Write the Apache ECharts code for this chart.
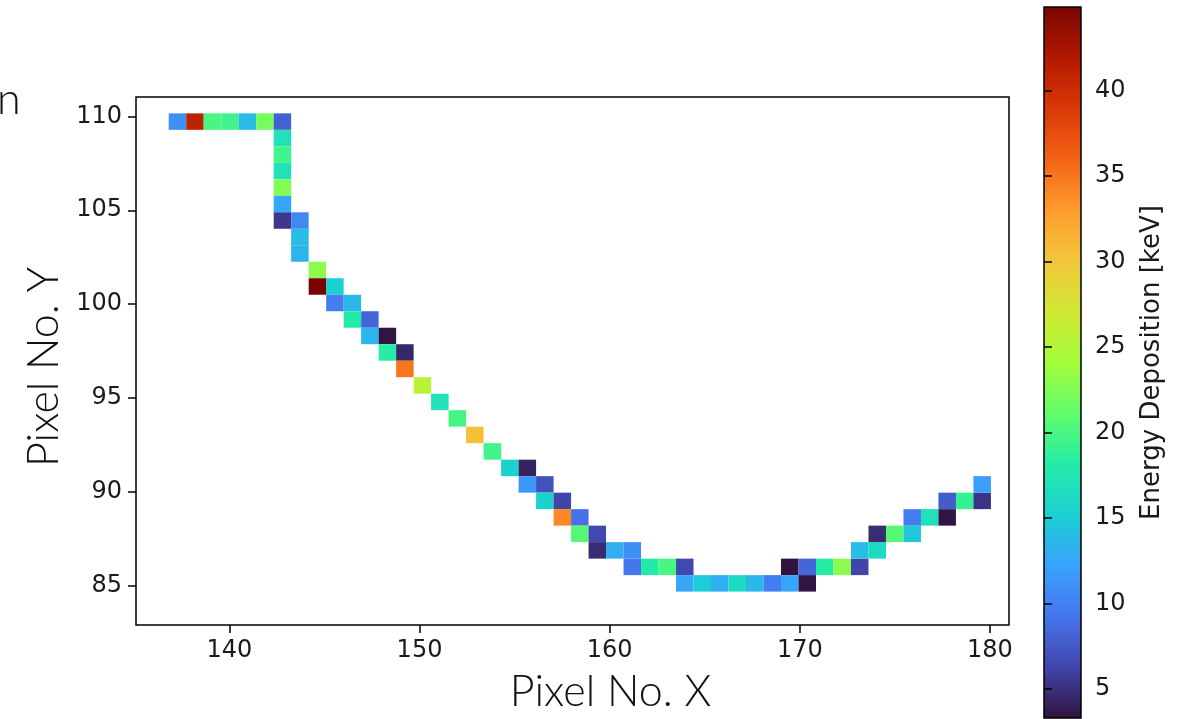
<!DOCTYPE html>
<html>
<head>
<meta charset="utf-8">
<script src="https://cdn.jsdelivr.net/npm/echarts@6/dist/echarts.min.js"></script>
<style>
  html, body { margin: 0; padding: 0; background: #fff; }
  #chartTrack { width: 1191px; height: 719px; }
</style>
</head>
<body>
<div id="chartTrack"></div>
<script type="text/javascript">
	// tick labels
	var xTicks = [140, 150, 160, 170, 180];
	var yTicks = [85, 90, 95, 100, 105, 110];
	var cbTicks = [5, 10, 15, 20, 25, 30, 35, 40];

	// histogram bins (pixel units): first bin edge and bin size
	var binX0 = 136.81, binW = 0.92;
	var binYTop = 110.16, binH = 0.878;

	// hit cells: column index, row index (from top), energy in keV
	var colIdx = [0,1,2,3,4,5,6, 6,6,6,6,6,6, 7,7,7, 8,8, 9,9, 10,10, 11,11, 12,12, 13,13,
		14,15,16,17,18,19, 20,20, 21,21, 22,22, 23,23, 24,24, 25, 26,26, 27,28, 29,29,
		30,31,32,33,34, 35,35, 36,36, 37,38, 39,39, 40,40, 41, 42,42, 43, 44,44, 45, 46,46];
	var rowIdx = [0,0,0,0,0,0,0, 1,2,3,4,5,6, 6,7,8, 9,10, 10,11, 11,12, 12,13, 13,14, 14,15,
		16,17,18,19,20,21, 21,22, 22,23, 23,24, 24,25, 25,26, 26, 26,27, 27,27, 27,28,
		28,28,28,28,28, 27,28, 27,28, 27,27, 27,26, 26,25, 25, 25,24, 24, 24,23, 23, 23,22];
	var energy = [11,41,20,19.5,14,22,8, 17,19.5,17,22.5,12.5,5.5, 10.5,14,13.5, 23,44.9, 15.3,9.8, 13.7,17.8, 8.3,13.5, 3.5,18.3, 4.6,35,
		25.5,17,19.8,30.5,19.5,15.5, 4.3,11.5, 7,15.5, 6.2,34, 9,20.6, 6.5,4.8, 13, 11,9.3, 18,20, 6.5,12.5,
		15,13,16.3,13.7,9.8, 3.4,12.5, 8.3,3.5, 18.3,23, 6.2,14, 16.3,4.8, 20.6, 14.8,9.8, 17, 3.5,7.7, 19, 5.3,12];

	var eMin = 3.31, eMax = 44.88;

	// turbo colormap
	var turbo = ['#30123b','#4145ab','#4675ed','#39a2fc','#1bcfd4','#24eca6','#61fc6c','#a4fc3b',
		'#d1e834','#f3c63a','#fe9b2d','#f36315','#d93806','#b11901','#7a0402'];

	var cells = [];
	var n = Math.min(colIdx.length, rowIdx.length, energy.length);
	for (var i = 0; i < n; i++) {
		cells.push([binX0 + (colIdx[i] + 0.5) * binW, binYTop - (rowIdx[i] + 0.5) * binH, energy[i]]);
	}

	var stops = turbo.map(function (c, k) { return {offset: k / (turbo.length - 1), color: c}; });

	var tickFont = {fontFamily: 'DejaVu Sans', fontSize: 24, color: '#1a1a1a'};
	var nameFont = {fontFamily: 'Lato', fontSize: 43, fontWeight: 300, color: '#111'};

	var chartTrack = echarts.init(document.getElementById('chartTrack'));
	var option_track = {
		backgroundColor: '#fff',
		animation: false,
		grid: [
			{left: 136, top: 97, width: 873, height: 531, show: true, borderColor: '#000', borderWidth: 1.5, backgroundColor: '#fff'},
			{left: 1044, top: 7, width: 37, height: 711, show: true, borderColor: '#000', borderWidth: 1.5,
				backgroundColor: new echarts.graphic.LinearGradient(0, 1, 0, 0, stops)}
		],
		xAxis: [
			{
				type: 'value', gridIndex: 0, min: 135.09, max: 181.0,
				name: 'Pixel No. X', nameLocation: 'middle', nameGap: 46,
				nameTextStyle: Object.assign({padding: [0, 0, 0, 76]}, nameFont),
				axisLine: {show: false},
				axisTick: {show: true, length: 8, lineStyle: {color: '#000', width: 1.5}, customValues: xTicks},
				axisLabel: Object.assign({margin: 14, customValues: xTicks}, tickFont),
				splitLine: {show: false}
			},
			{type: 'value', gridIndex: 1, min: 0, max: 1, show: false}
		],
		yAxis: [
			{
				type: 'value', gridIndex: 0, min: 82.92, max: 111.03,
				name: 'Pixel No. Y', nameLocation: 'middle', nameGap: 70,
				nameTextStyle: Object.assign({padding: [0, 12, 0, 0]}, nameFont),
				axisLine: {show: false},
				axisTick: {show: true, length: 8, lineStyle: {color: '#000', width: 1.5}, customValues: yTicks},
				axisLabel: Object.assign({margin: 14, customValues: yTicks}, tickFont),
				splitLine: {show: false}
			},
			{
				type: 'value', gridIndex: 1, position: 'right', min: eMin, max: eMax,
				name: 'Energy Deposition [keV]', nameLocation: 'middle', nameRotate: 90, nameGap: 58,
				nameTextStyle: {fontFamily: 'DejaVu Sans', fontSize: 26, color: '#1a1a1a'},
				axisLine: {show: false},
				axisTick: {show: true, length: 8, lineStyle: {color: '#000', width: 1.5}, customValues: cbTicks},
				axisLabel: Object.assign({margin: 14, customValues: cbTicks}, tickFont),
				splitLine: {show: false}
			}
		],
		visualMap: {
			type: 'continuous', show: false, min: eMin, max: eMax, dimension: 2, seriesIndex: 0,
			inRange: {color: turbo}
		},
		graphic: [
			{type: 'text', left: -3, top: 79, style: {text: 'n', font: '300 43px Lato', fill: '#111'}}
		],
		series: [
			{
				type: 'custom',
				xAxisIndex: 0, yAxisIndex: 0,
				data: cells,
				renderItem: function (params, api) {
					var x = api.value(0), y = api.value(1);
					var p0 = api.coord([x - binW / 2, y + binH / 2]);
					var p1 = api.coord([x + binW / 2, y - binH / 2]);
					return {
						type: 'rect',
						shape: {x: p0[0], y: p0[1], width: p1[0] - p0[0], height: p1[1] - p0[1]},
						style: {fill: api.visual('color')}
					};
				}
			},
			{type: 'line', xAxisIndex: 1, yAxisIndex: 1, data: []}
		]
	};
	chartTrack.setOption(option_track);
	window.onresize = function() {
		chartTrack.resize();
	};
</script>
</body>
</html>
